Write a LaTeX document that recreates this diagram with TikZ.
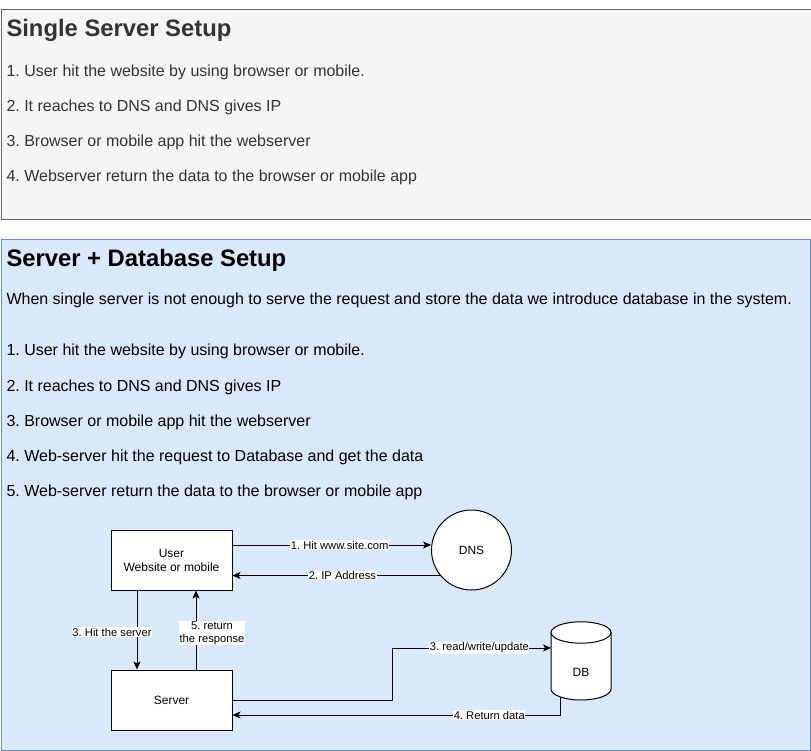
\documentclass[tikz,border=0pt]{standalone}
\usepackage{fontspec}
\setmainfont{Liberation Sans}
\usetikzlibrary{arrows.meta}
\usetikzlibrary{calc}
\definecolor{PanelGray}{HTML}{F5F5F5}
\definecolor{PanelGrayLine}{HTML}{666666}
\definecolor{PanelBlue}{HTML}{DAE8FC}
\definecolor{PanelBlueLine}{HTML}{6C8EBF}
\definecolor{TextGray}{HTML}{333333}
\frenchspacing

\begin{document}
\begin{tikzpicture}[x=1pt,y=-1pt,line width=1pt,
  heading/.style={anchor=base west, inner sep=0pt, font=\fontsize{23.8}{28}\selectfont\bfseries},
  bodytext/.style={anchor=base west, inner sep=0pt, font=\fontsize{16}{19}\selectfont},
  box/.style={draw, fill=white, minimum width=121pt, minimum height=60pt, align=center, font=\fontsize{12}{14}\selectfont},
  flow/.style={-{Stealth[length=8pt,width=7pt,inset=2pt]}},
  lbl/.style={fill=white, inner sep=0.5pt, align=center, font=\fontsize{11.2}{13}\selectfont}]

  \useasboundingbox (0,0) rectangle (811,751);

  % single server panel
  \draw[PanelGrayLine, fill=PanelGray] (1,10) rectangle (813,220);
  \begin{scope}[TextGray]
  \node[heading] (t1) at (6,37) {Single Server Setup};
  \node[bodytext] (s1) at (6,77) {1. User hit the website by using browser or mobile.};
  \node[bodytext] (s2) at (6,112) {2. It reaches to DNS and DNS gives IP};
  \node[bodytext] (s3) at (6,147) {3. Browser or mobile app hit the webserver};
  \node[bodytext] (s4) at (6,182) {4. Webserver return the data to the browser or mobile app};
  \end{scope}

  % server + database panel
  \draw[PanelBlueLine, fill=PanelBlue] (1,240) rectangle (810,750);
  \node[heading] (t2) at (6,267) {Server + Database Setup};
  \node[bodytext] (intro) at (6,305) {When single server is not enough to serve the request and store the data we introduce database in the system.};
  \node[bodytext] (d1) at (6,355) {1. User hit the website by using browser or mobile.};
  \node[bodytext] (d2) at (6,391) {2. It reaches to DNS and DNS gives IP};
  \node[bodytext] (d3) at (6,426) {3. Browser or mobile app hit the webserver};
  \node[bodytext] (d4) at (6,461) {4. Web-server hit the request to Database and get the data};
  \node[bodytext] (d5) at (6,496) {5. Web-server return the data to the browser or mobile app};

  % diagram
  \node[box] (user) at (171.5,560) {User\\Website or mobile};
  \node[box] (server) at (171.5,700) {Server};
  \node[draw, fill=white, circle, minimum size=80pt, inner sep=0pt,
        font=\fontsize{12}{14}\selectfont] (dns) at (471.5,550) {DNS};

  % database cylinder
  \node[minimum width=60pt, minimum height=78pt, inner sep=0pt] (db) at (581,661) {};
  \draw[fill=white] (551,632.5) -- (551,689) arc (180:360:30pt and 11pt) -- (611,632.5) -- cycle;
  \draw[fill=white] (581,632.5) ellipse (30pt and 10.7pt);
  \node[font=\fontsize{12}{14}\selectfont] (dbtext) at (581,672) {DB};
  \coordinate (dbin) at (551,648);
  \coordinate (dbout) at (560,697);

  \draw[flow] ([yshift=15pt]user.east) -- ([yshift=15pt]user.east -| dns.west)
    node[lbl, pos=0.54] {1. Hit www.site.com};
  \draw[flow] (dns.219) -- (dns.219 -| user.east)
    node[lbl, pos=0.47] {2. IP Address};
  \draw[flow] ([xshift=-34.5pt]user.south) -- ([xshift=-34.5pt]server.north)
    node[lbl, midway, xshift=-25pt, yshift=-2pt] {3. Hit the server};
  \draw[flow] ([xshift=24.5pt]server.north) -- ([xshift=24.5pt]user.south)
    node[lbl, midway, xshift=16pt, yshift=-3pt] {5. return\\the response};
  \draw[flow] (server.east) -- ++(159.5,0) |- (dbin)
    node[lbl, pos=0.775] {3. read/write/update};
  \draw[flow] (dbout) |- ([yshift=-15pt]server.east)
    node[lbl, pos=0.608] {4. Return data};

\end{tikzpicture}
\end{document}
